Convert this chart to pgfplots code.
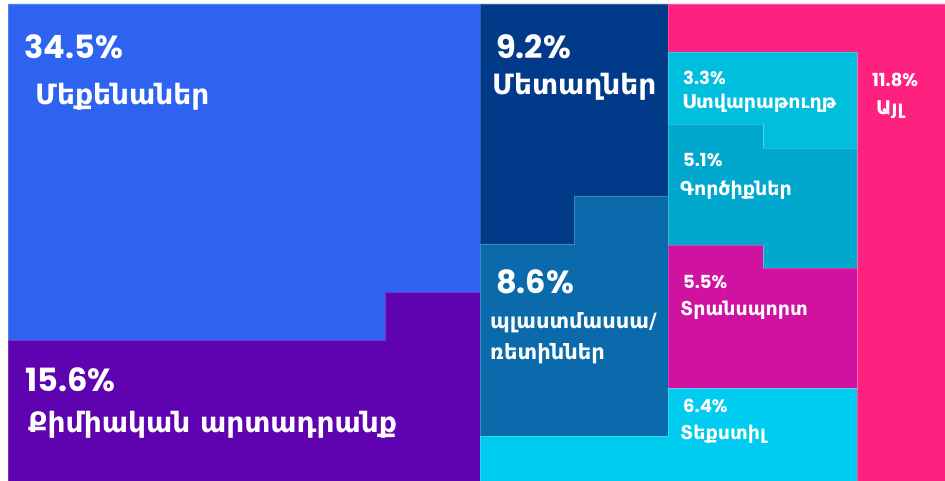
\documentclass[border=0pt]{standalone}
\usepackage{pgfplots}
\pgfplotsset{compat=1.18}
\usepackage{fontspec}
\setmainfont{DejaVu Sans}
\newfontfamily\numfont{Poppins}

\definecolor{cMach}{RGB}{46,98,240}
\definecolor{cChem}{RGB}{95,2,176}
\definecolor{cMetal}{RGB}{2,58,138}
\definecolor{cPlast}{RGB}{10,106,172}
\definecolor{cOther}{RGB}{255,33,128}
\definecolor{cCard}{RGB}{0,190,222}
\definecolor{cTools}{RGB}{0,168,206}
\definecolor{cTrans}{RGB}{208,18,160}
\definecolor{cText}{RGB}{0,204,240}

\newcommand{\pct}[1]{{\numfont\bfseries #1}}
\tikzset{lbl/.style={text=white, anchor=west, inner sep=0pt, font=\fontsize{#1}{#1}\selectfont\bfseries}}

\begin{document}
\begin{tikzpicture}
\begin{axis}[
    width=945pt, height=481pt, scale only axis,
    xmin=0, xmax=945, ymin=0, ymax=481,
    y dir=reverse, hide axis, clip=true,
    tile/.style={draw=white, draw opacity=0.2, line width=0.6pt, fill=#1},
]
% background
\addplot[draw=none, fill=white] coordinates {(0,0) (945,0) (945,481) (0,481)} --cycle;

% tiles (shares in %, outlines in picture units)
\addplot[tile=cMach]  coordinates {(8,4) (480,4) (480,292) (385,292) (385,340) (8,340)} --cycle;      % 34.5
\addplot[tile=cChem]  coordinates {(8,340) (385,340) (385,292) (480,292) (480,481) (8,481)} --cycle;   % 15.6
\addplot[tile=cMetal] coordinates {(480,4) (668,4) (668,196) (574,196) (574,244) (480,244)} --cycle;   % 9.2
\addplot[tile=cPlast] coordinates {(480,244) (574,244) (574,196) (668,196) (668,436) (480,436)} --cycle; % 8.6
\addplot[tile=cText]  coordinates {(480,436) (668,436) (668,388) (857,388) (857,481) (480,481)} --cycle; % 6.4
\addplot[tile=cOther] coordinates {(668,4) (945,4) (945,481) (857,481) (857,52) (668,52)} --cycle;     % 11.8
\addplot[tile=cCard]  coordinates {(668,52) (857,52) (857,148) (763,148) (763,124) (668,124)} --cycle;  % 3.3
\addplot[tile=cTools] coordinates {(668,124) (763,124) (763,148) (857,148) (857,268) (763,268) (763,245) (668,245)} --cycle; % 5.1
\addplot[tile=cTrans] coordinates {(668,245) (763,245) (763,268) (857,268) (857,388) (668,388)} --cycle; % 5.5

% labels
\node[lbl=32] at (axis cs:24,47) {\pct{34.5\%}};
\node[lbl=28] at (axis cs:35,97) {Մեքենաներ};
\node[lbl=32] at (axis cs:25,380) {\pct{15.6\%}};
\node[lbl=28] at (axis cs:28,425) {Քիմիական արտադրանք};
\node[lbl=32] at (axis cs:496,47) {\pct{9.2\%}};
\node[lbl=28] at (axis cs:492,87) {Մետաղներ};
\node[lbl=32] at (axis cs:496,282) {\pct{8.6\%}};
\node[lbl=21] at (axis cs:490,323) {պլաստմասսա/};
\node[lbl=21] at (axis cs:490,354) {ռետիններ};
\node[lbl=18] at (axis cs:683,78) {\pct{3.3\%}};
\node[lbl=19] at (axis cs:682,103) {Ստվարաթուղթ};
\node[lbl=18] at (axis cs:872,80) {\pct{11.8\%}};
\node[lbl=19] at (axis cs:876,110) {Այլ};
\node[lbl=18] at (axis cs:683,160) {\pct{5.1\%}};
\node[lbl=19] at (axis cs:680,190) {Գործիքներ};
\node[lbl=18] at (axis cs:683,282) {\pct{5.5\%}};
\node[lbl=19] at (axis cs:680,310) {Տրանսպորտ};
\node[lbl=18] at (axis cs:683,406) {\pct{6.4\%}};
\node[lbl=19] at (axis cs:680,434) {Տեքստիլ};
\end{axis}
\end{tikzpicture}
\end{document}
